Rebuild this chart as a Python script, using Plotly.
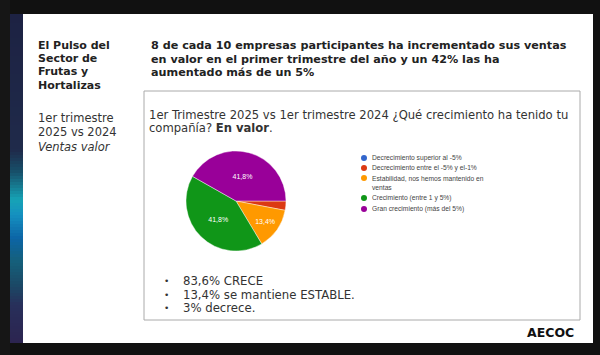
import plotly.graph_objects as go

W, H = 600, 355

# ---- data ----
categories = [
    "Decrecimiento superior al -5%",
    "Decrecimiento entre el -5% y el-1%",
    "Estabilidad, nos hemos mantenido en ventas",
    "Crecimiento (entre 1 y 5%)",
    "Gran crecimiento (más del 5%)",
]
legend_lines = [
    ["Decrecimiento superior al -5%"],
    ["Decrecimiento entre el -5% y el-1%"],
    ["Estabilidad, nos hemos mantenido en", "ventas"],
    ["Crecimiento (entre 1 y 5%)"],
    ["Gran crecimiento (más del 5%)"],
]
values = [0.0, 3.0, 13.4, 41.8, 41.8]
slice_labels = ["", "", "13,4%", "41,8%", "41,8%"]
colors = ["#3366cc", "#dc3912", "#ff9900", "#109618", "#990099"]

title_lines = [
    "8 de cada 10 empresas participantes ha incrementado sus ventas",
    "en valor en el primer trimestre del año y un 42% las ha",
    "aumentado más de un 5%",
]
side_title = ["El Pulso del", "Sector de", "Frutas y", "Hortalizas"]
side_sub = ["1er trimestre", "2025 vs 2024"]
side_italic = "Ventas valor"
question_lines = [
    "1er Trimestre 2025 vs 1er trimestre 2024 ¿Qué crecimiento ha tenido tu",
    "compañía? <b>En valor</b>.",
]
bullets = ["83,6% CRECE", "13,4% se mantiene ESTABLE.", "3% decrece."]
logo = "AECOC"


def px(x):
    return x / W


def py(y):
    return 1 - y / H


fig = go.Figure()

# pie
cx, cy, r = 236, 201, 50
fig.add_trace(go.Pie(
    labels=categories, values=values, sort=False, direction="clockwise",
    rotation=90, marker=dict(colors=colors, line=dict(color="rgba(255,255,255,0.7)", width=0.6)),
    text=slice_labels, textinfo="text", textposition="inside",
    insidetextorientation="horizontal",
    textfont=dict(family="Liberation Sans, Arial", size=7, color="white"),
    domain=dict(x=[px(cx - r), px(cx + r)], y=[py(cy + r), py(cy - r)]),
    showlegend=False, hoverinfo="label+percent",
))

shapes = []
# slide background
shapes.append(dict(type="rect", xref="paper", yref="paper", x0=px(0), x1=px(10), y0=0, y1=1,
                   fillcolor="#161616", line_width=0, layer="below"))
shapes.append(dict(type="rect", xref="paper", yref="paper", x0=px(23), x1=px(593), y0=py(343), y1=py(14),
                   fillcolor="white", line_width=0, layer="below"))

# gradient strip (decoration)
stops = [(14, "#1d2243"), (150, "#1f2a4a"), (172, "#17506a"), (200, "#16a3b6"),
         (215, "#1590c0"), (238, "#0c65a6"), (262, "#155f7a"), (285, "#1b4966"),
         (305, "#282f5a"), (343, "#2c2450")]


def hex2rgb(h):
    h = h.lstrip("#")
    return tuple(int(h[i:i + 2], 16) for i in (0, 2, 4))


y = 14.0
step = 3.0
while y < 343:
    ym = y + step / 2
    for (ya, ca), (yb, cb) in zip(stops[:-1], stops[1:]):
        if ya <= ym <= yb:
            t = (ym - ya) / (yb - ya)
            a, b = hex2rgb(ca), hex2rgb(cb)
            c = tuple(round(a[i] + (b[i] - a[i]) * t) for i in range(3))
            break
    shapes.append(dict(type="rect", xref="paper", yref="paper", x0=px(10), x1=px(23),
                       y0=py(min(y + step, 343)), y1=py(y),
                       fillcolor="rgb(%d,%d,%d)" % c, line_width=0, layer="below"))
    y += step

# content box
shapes.append(dict(type="rect", xref="paper", yref="paper", x0=px(144), x1=px(580), y0=py(320), y1=py(91),
                   fillcolor="rgba(0,0,0,0)", line=dict(color="#aaaaaa", width=1)))

# legend dots
leg_y = [158, 168, 178, 198, 209]
for yy, col in zip(leg_y, colors):
    shapes.append(dict(type="circle", xref="paper", yref="paper",
                       x0=px(361), x1=px(367), y0=py(yy + 3), y1=py(yy - 3),
                       fillcolor=col, line_width=0))

ann = []


def text(x, y, s, size, color="#222", family="DejaVu Sans", xanchor="left", bold=False, italic=False):
    if bold:
        s = "<b>" + s + "</b>"
    if italic:
        s = "<i>" + s + "</i>"
    ann.append(dict(x=px(x), y=py(y), xref="paper", yref="paper", text=s, showarrow=False,
                    xanchor=xanchor, yanchor="middle", font=dict(size=size, color=color, family=family)))


for i, s in enumerate(title_lines):
    text(149, 45 + 14 * i, s, 11.2, "#222", bold=True)
for i, s in enumerate(side_title):
    text(36, 45 + 13.4 * i, s, 11, "#222", bold=True)
for i, s in enumerate(side_sub):
    text(36, 118 + 14 * i, s, 11.5, "#333")
text(36, 147, side_italic, 11.5, "#333", italic=True)
for i, s in enumerate(question_lines):
    text(147, 115 + 13 * i, s, 11.6, "#333")
for i, s in enumerate(bullets):
    text(162, 281 + 13.7 * i, "•", 9, "#333")
    text(181, 281 + 13.7 * i, s, 11.7, "#333")
text(576, 332, logo, 12.5, "#111", family="DejaVu Sans", xanchor="right", bold=True)

# legend labels
for yy, lines in zip(leg_y, legend_lines):
    for j, s in enumerate(lines):
        text(370, yy + 9.5 * j, s, 6.7, "#444", family="Liberation Sans, Arial")

fig.update_layout(
    width=W, height=H, margin=dict(l=0, r=0, t=0, b=0),
    paper_bgcolor="#111111", plot_bgcolor="#111111",
    shapes=shapes, annotations=ann,
    xaxis=dict(visible=False), yaxis=dict(visible=False),
)
fig.write_html("out.html", post_script="document.body.style.margin='0';",
               config={"displayModeBar": False})
